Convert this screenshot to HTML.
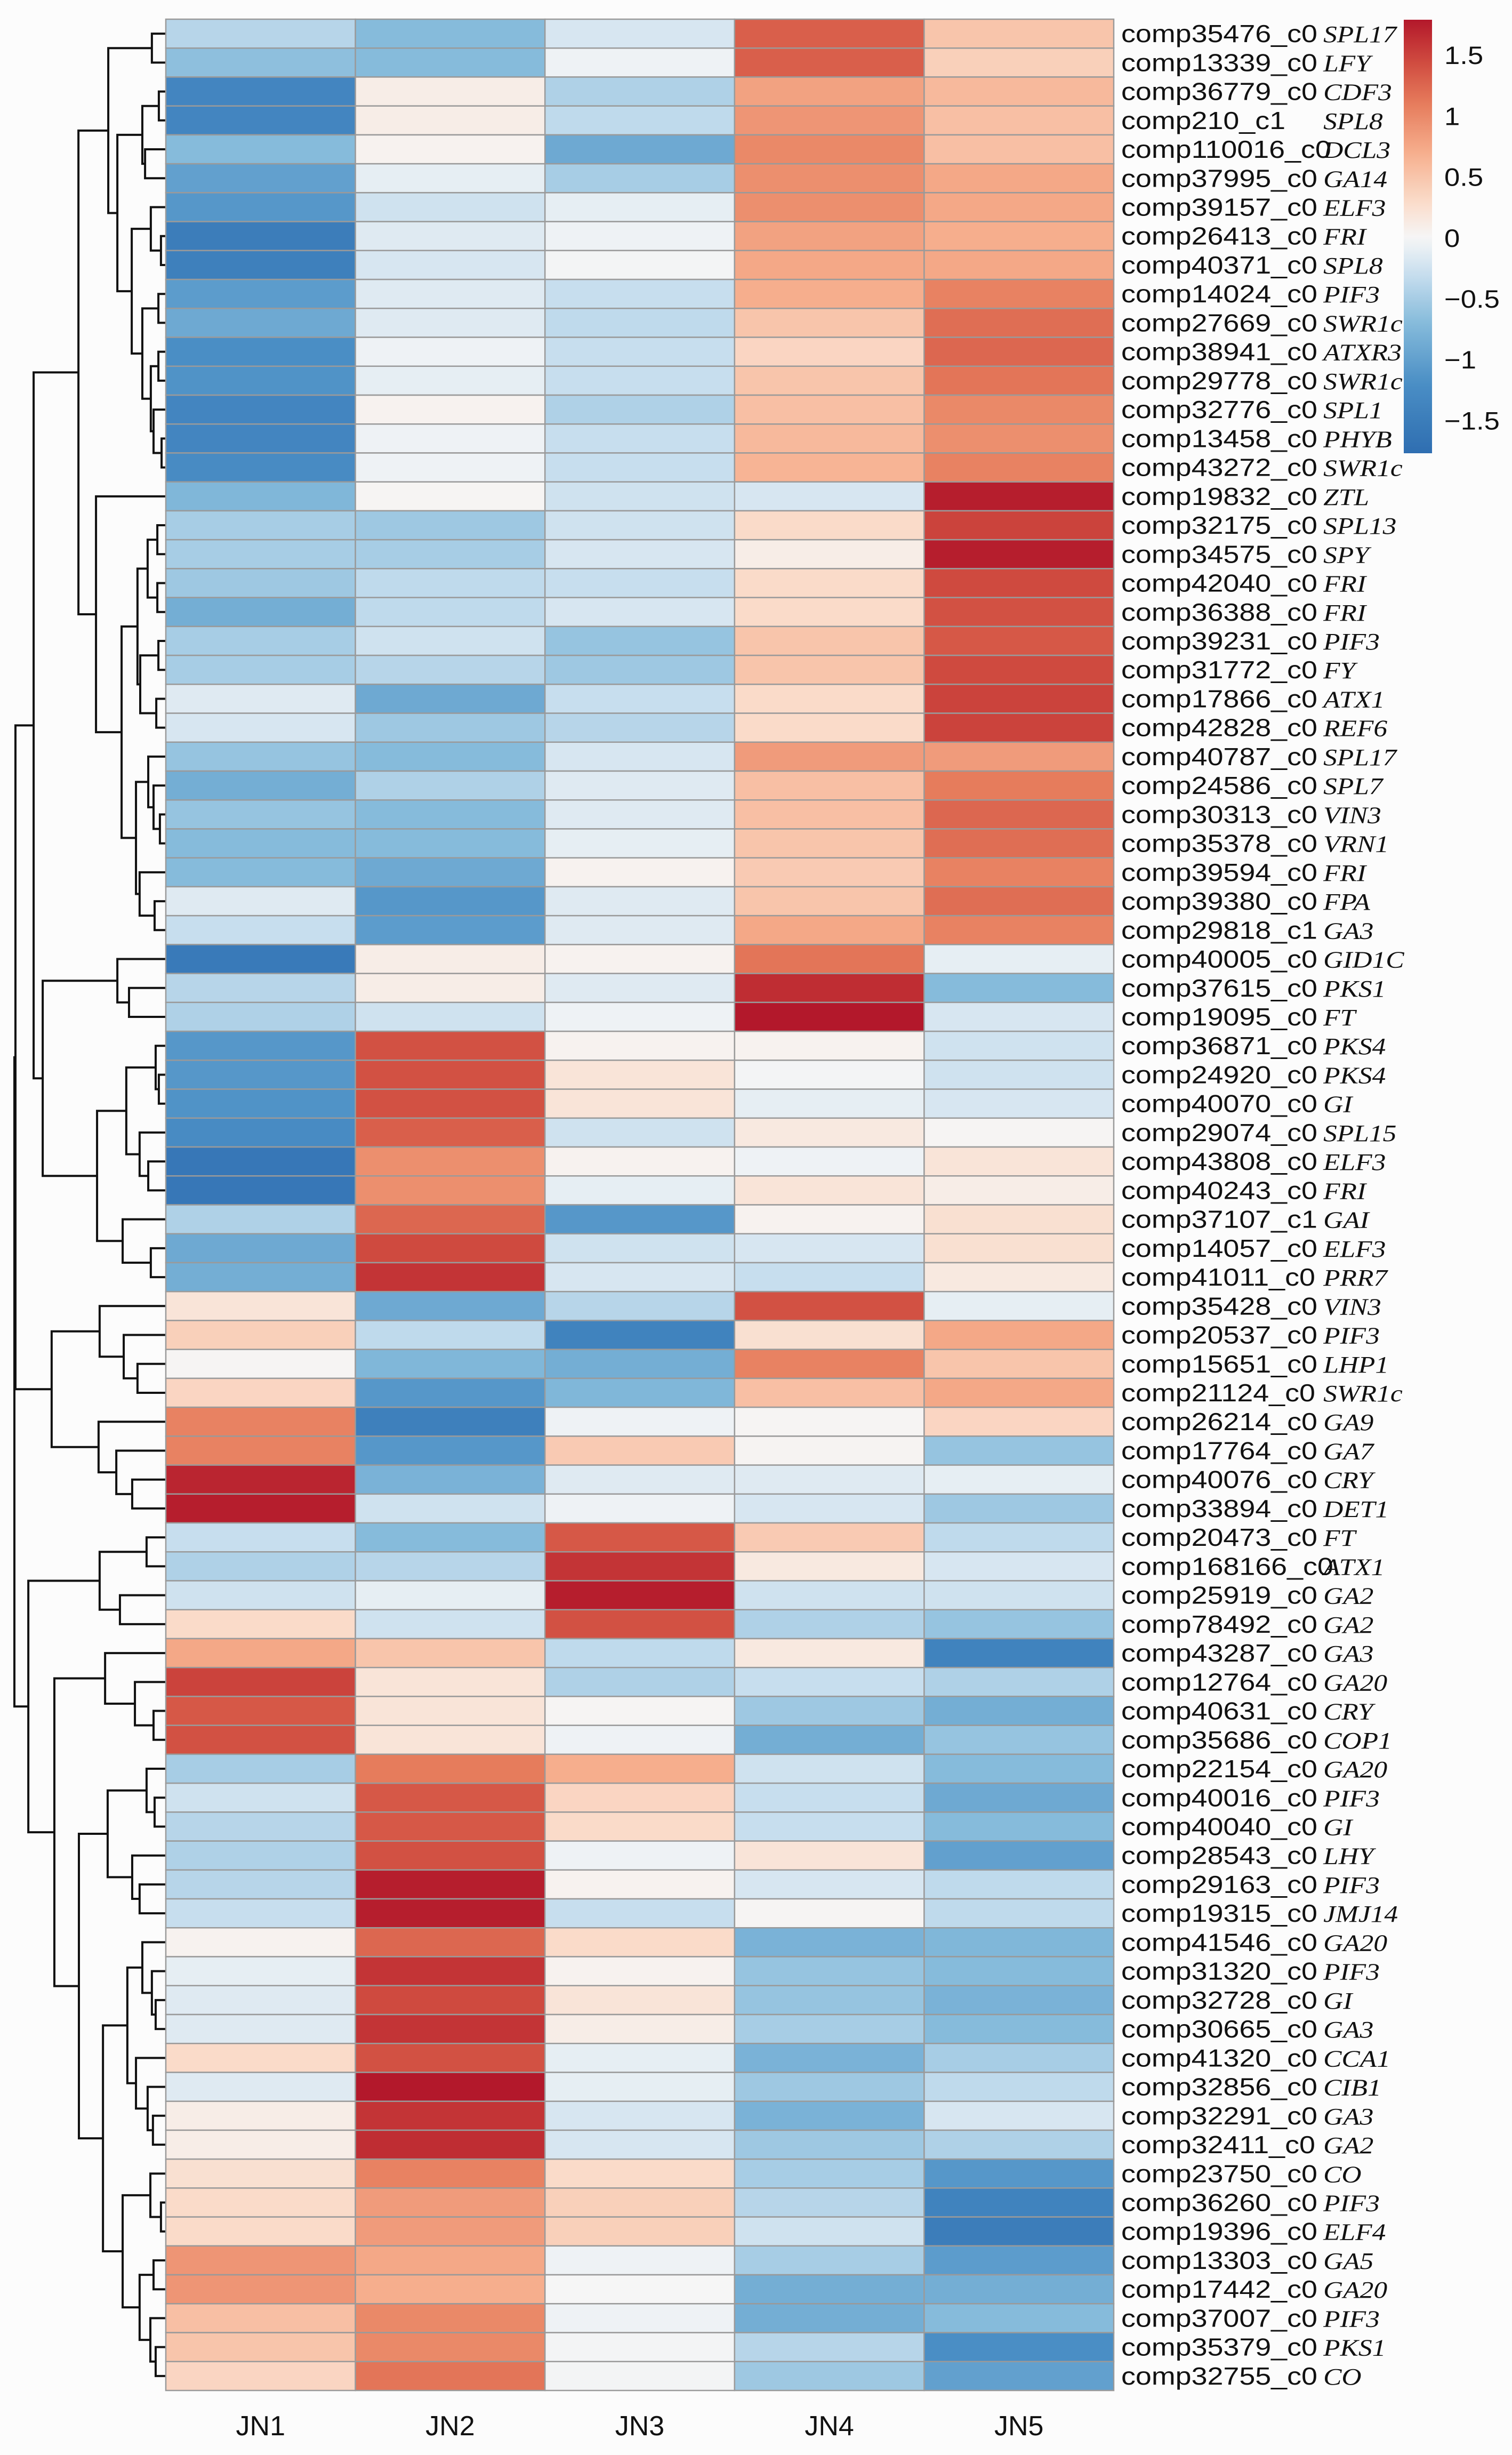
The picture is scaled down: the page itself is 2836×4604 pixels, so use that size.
<!DOCTYPE html>
<html><head><meta charset="utf-8"><style>
html,body{margin:0;padding:0;background:#fff;}
svg{display:block;}
</style></head><body>
<svg id="chart" width="2836" height="4604" viewBox="0 0 2836 4604" xmlns="http://www.w3.org/2000/svg">
<rect x="0" y="0" width="2836" height="4604" fill="#fcfcfc"/>
<g id="dendro"></g>
<g id="cells"></g>
<g id="rowlabels"></g>
<g id="collabels"></g>
<g id="legend"></g>
</svg>
<script>
const samples = ["JN1","JN2","JN3","JN4","JN5"];
const compIds = ["comp35476_c0","comp13339_c0","comp36779_c0","comp210_c1","comp110016_c0","comp37995_c0","comp39157_c0","comp26413_c0","comp40371_c0","comp14024_c0","comp27669_c0","comp38941_c0","comp29778_c0","comp32776_c0","comp13458_c0","comp43272_c0","comp19832_c0","comp32175_c0","comp34575_c0","comp42040_c0","comp36388_c0","comp39231_c0","comp31772_c0","comp17866_c0","comp42828_c0","comp40787_c0","comp24586_c0","comp30313_c0","comp35378_c0","comp39594_c0","comp39380_c0","comp29818_c1","comp40005_c0","comp37615_c0","comp19095_c0","comp36871_c0","comp24920_c0","comp40070_c0","comp29074_c0","comp43808_c0","comp40243_c0","comp37107_c1","comp14057_c0","comp41011_c0","comp35428_c0","comp20537_c0","comp15651_c0","comp21124_c0","comp26214_c0","comp17764_c0","comp40076_c0","comp33894_c0","comp20473_c0","comp168166_c0","comp25919_c0","comp78492_c0","comp43287_c0","comp12764_c0","comp40631_c0","comp35686_c0","comp22154_c0","comp40016_c0","comp40040_c0","comp28543_c0","comp29163_c0","comp19315_c0","comp41546_c0","comp31320_c0","comp32728_c0","comp30665_c0","comp41320_c0","comp32856_c0","comp32291_c0","comp32411_c0","comp23750_c0","comp36260_c0","comp19396_c0","comp13303_c0","comp17442_c0","comp37007_c0","comp35379_c0","comp32755_c0"];
const geneNames = ["SPL17","LFY","CDF3","SPL8","DCL3","GA14","ELF3","FRI","SPL8","PIF3","SWR1c","ATXR3","SWR1c","SPL1","PHYB","SWR1c","ZTL","SPL13","SPY","FRI","FRI","PIF3","FY","ATX1","REF6","SPL17","SPL7","VIN3","VRN1","FRI","FPA","GA3","GID1C","PKS1","FT","PKS4","PKS4","GI","SPL15","ELF3","FRI","GAI","ELF3","PRR7","VIN3","PIF3","LHP1","SWR1c","GA9","GA7","CRY","DET1","FT","ATX1","GA2","GA2","GA3","GA20","CRY","COP1","GA20","PIF3","GI","LHY","PIF3","JMJ14","GA20","PIF3","GI","GA3","CCA1","CIB1","GA3","GA2","CO","PIF3","ELF4","GA5","GA20","PIF3","PKS1","CO"];
const jn1 = [-0.4,-0.65,-1.35,-1.35,-0.7,-1.0,-1.1,-1.5,-1.45,-1.05,-0.9,-1.2,-1.15,-1.35,-1.35,-1.25,-0.75,-0.5,-0.5,-0.55,-0.85,-0.5,-0.5,-0.15,-0.2,-0.6,-0.85,-0.6,-0.7,-0.7,-0.15,-0.3,-1.55,-0.4,-0.45,-1.1,-1.1,-1.15,-1.25,-1.6,-1.6,-0.45,-0.9,-0.85,0.2,0.4,0.02,0.35,1.05,1.05,1.7,1.75,-0.3,-0.45,-0.25,0.3,0.75,1.5,1.35,1.4,-0.5,-0.25,-0.4,-0.45,-0.4,-0.3,0.05,-0.1,-0.15,-0.15,0.3,-0.15,0.1,0.1,0.25,0.3,0.3,0.9,0.9,0.55,0.5,0.35];
const jn2 = [-0.7,-0.7,0.1,0.1,0.05,-0.1,-0.25,-0.15,-0.2,-0.15,-0.15,-0.05,-0.1,0.05,-0.05,-0.05,0.02,-0.55,-0.5,-0.35,-0.35,-0.25,-0.4,-0.9,-0.55,-0.7,-0.45,-0.7,-0.7,-0.9,-1.1,-1.05,0.1,0.1,-0.25,1.4,1.4,1.4,1.3,0.95,0.95,1.25,1.45,1.6,-0.9,-0.35,-0.75,-1.1,-1.45,-1.1,-0.8,-0.25,-0.7,-0.4,-0.1,-0.25,0.5,0.2,0.2,0.2,1.1,1.35,1.35,1.4,1.75,1.75,1.25,1.6,1.45,1.6,1.4,1.8,1.6,1.65,1.05,0.85,0.85,0.75,0.7,1.0,1.0,1.15];
const jn3 = [-0.2,-0.05,-0.45,-0.35,-0.9,-0.5,-0.1,-0.05,-0.02,-0.3,-0.35,-0.3,-0.3,-0.45,-0.3,-0.3,-0.25,-0.25,-0.2,-0.3,-0.2,-0.6,-0.55,-0.3,-0.4,-0.2,-0.15,-0.15,-0.1,0.05,-0.15,-0.15,0.05,-0.15,-0.05,0.05,0.2,0.2,-0.25,0.05,-0.1,-1.1,-0.25,-0.2,-0.4,-1.4,-0.85,-0.75,-0.05,0.45,-0.15,-0.05,1.35,1.6,1.75,1.4,-0.35,-0.45,0.02,-0.05,0.7,0.35,0.3,-0.05,0.05,-0.3,0.3,0.05,0.2,0.1,-0.1,-0.1,-0.2,-0.2,0.3,0.4,0.4,-0.05,0.0,-0.05,-0.02,-0.02];
const jn4 = [1.3,1.3,0.8,0.9,1.0,0.95,0.95,0.8,0.75,0.7,0.5,0.35,0.5,0.55,0.6,0.65,-0.2,0.3,0.1,0.3,0.3,0.5,0.5,0.3,0.3,0.85,0.55,0.55,0.5,0.45,0.5,0.75,1.15,1.65,1.8,0.05,-0.02,-0.1,0.15,-0.05,0.2,0.05,-0.2,-0.3,1.4,0.25,1.05,0.55,0.02,0.03,-0.15,-0.2,0.45,0.15,-0.25,-0.45,0.15,-0.3,-0.55,-0.85,-0.25,-0.3,-0.3,0.2,-0.2,0.02,-0.8,-0.6,-0.6,-0.5,-0.8,-0.55,-0.8,-0.55,-0.5,-0.4,-0.25,-0.5,-0.85,-0.85,-0.4,-0.55];
const jn5 = [0.5,0.4,0.6,0.55,0.55,0.75,0.75,0.7,0.75,1.05,1.2,1.25,1.15,1.0,0.95,1.05,1.75,1.5,1.75,1.45,1.4,1.35,1.45,1.5,1.5,0.85,1.1,1.25,1.2,1.05,1.2,1.05,-0.1,-0.7,-0.2,-0.25,-0.25,-0.2,0.02,0.2,0.1,0.25,0.25,0.15,-0.1,0.75,0.5,0.75,0.35,-0.6,-0.1,-0.55,-0.35,-0.2,-0.25,-0.6,-1.4,-0.45,-0.85,-0.6,-0.7,-0.9,-0.7,-1.0,-0.35,-0.35,-0.75,-0.7,-0.8,-0.7,-0.5,-0.35,-0.2,-0.45,-1.1,-1.4,-1.5,-1.05,-0.85,-0.7,-1.2,-1.0];
const legendTicks = [1.5,1,0.5,0,-0.5,-1,-1.5];
const legendTickText = ["1.5","1","0.5","0","\u22120.5","\u22121","\u22121.5"];
// row dendrogram: [mergeHeight, left, right]; leaves are row indices
const rowTree = [10,
  [9.93,
    [8.73,
      [5.77,
        [3.8,[0.92,0,1],
          [3.2,[1.55,[0.46,2,3],[1.37,4,5]],
            [2.25,[0.99,6,[0.32,7,8]],
              [1.55,[0.49,9,10],[0.99,[0.49,11,12],[0.81,13,[0.28,14,15]]]]]]],
        [4.61,16,
          [2.92,[1.87,[1.2,[0.56,17,18],[0.56,19,20]],[1.69,[0.49,21,22],[0.63,23,24]]],
            [1.97,[1.16,25,[0.81,26,[0.39,27,28]]],[1.73,29,[0.74,30,31]]]]]],
      [8.13,[3.2,32,[2.43,33,34]],
        [4.54,[2.61,[0.67,35,[0.46,36,37]],[1.73,38,[1.16,39,40]]],[2.85,41,[0.99,42,43]]]]],
    [7.54,[4.37,44,[2.78,45,[1.87,46,47]]],[4.44,48,[3.27,49,[2.22,50,51]]]]],
  [9.08,[4.37,[1.27,52,53],[3.03,54,55]],
    [7.36,[4.01,56,[2.04,57,[0.81,58,59]]],
      [5.74,[3.84,[1.27,60,[0.74,61,62]],[2.22,63,[1.73,64,65]]],
        [4.15,[2.54,[1.55,66,[0.92,67,[0.67,68,69]]],[1.97,70,[1.2,71,[0.85,72,73]]]],
          [2.85,[1.02,74,[0.32,75,76]],[1.73,[0.81,77,78],[1.02,79,[0.67,80,81]]]]]]]]];

const NS="http://www.w3.org/2000/svg";
const X0=311, X1=2089, Y0=36, Y1=4483;
const nRows=compIds.length, nCols=samples.length;
const cw=(X1-X0)/nCols, rh=(Y1-Y0)/nRows;
const series=[jn1,jn2,jn3,jn4,jn5];
const stops=[[-1.76,[47,110,177]],[-1.2,[74,142,197]],[-0.7,[134,187,219]],[-0.3,[199,222,238]],[0,[246,246,246]],[0.3,[250,219,201]],[0.7,[246,174,141]],[1.1,[230,124,92]],[1.45,[207,74,63]],[1.79,[179,24,43]]];
function color(v){
  if(v<=stops[0][0]) return 'rgb('+stops[0][1].join(',')+')';
  for(let i=1;i<stops.length;i++){
    if(v<=stops[i][0]){
      const t=(v-stops[i-1][0])/(stops[i][0]-stops[i-1][0]);
      const a=stops[i-1][1], b=stops[i][1];
      return 'rgb('+a.map((c,k)=>Math.round(c+(b[k]-c)*t)).join(',')+')';
    }
  }
  return 'rgb('+stops[stops.length-1][1].join(',')+')';
}
function xCol(j){return X0+j*cw;}
function yRow(i){return Y0+i*rh;}
function mk(tag,attrs,parent){const e=document.createElementNS(NS,tag);for(const k in attrs)e.setAttribute(k,attrs[k]);parent.appendChild(e);return e;}

const cells=document.getElementById('cells');
for(let i=0;i<nRows;i++){
  for(let j=0;j<nCols;j++){
    const r=mk('rect',{x:xCol(j),y:yRow(i),width:cw,height:rh,fill:color(series[j][i]),stroke:'#9a9a9a','stroke-width':2.5},cells);
    
    
  }
}
const rl=document.getElementById('rowlabels');
for(let i=0;i<nRows;i++){
  const g=mk('g',{transform:'translate(2103,'+(yRow(i)+rh/2+16)+') scale(1.17,1)'},rl);
  
  
  const t=mk('text',{x:0,y:0,'font-family':'Liberation Sans, sans-serif','font-size':46,fill:'#111'},g);
  t.textContent=compIds[i];
  
  
  const t2=mk('text',{x:324,y:0,'font-family':'Liberation Serif, serif','font-style':'italic','font-size':44,fill:'#111'},g);
  t2.textContent=geneNames[i];
  
  
}
const cl=document.getElementById('collabels');
for(let j=0;j<nCols;j++){
  const t=mk('text',{x:xCol(j)+cw/2,y:4567,'text-anchor':'middle','font-family':'Liberation Sans, sans-serif','font-size':52,fill:'#111'},cl);
  t.textContent=samples[j];
  
  
}
// legend
const lg=document.getElementById('legend');
const LMAX=1.79, LMIN=-1.77, LY0=37, LY1=850;
function yLeg(v){return LY0+(LMAX-v)/(LMAX-LMIN)*(LY1-LY0);}
const defs=mk('defs',{},lg);
const grad=mk('linearGradient',{id:'lgrad',x1:0,y1:0,x2:0,y2:1},defs);
for(let k=0;k<=40;k++){
  const v=LMAX-(LMAX-LMIN)*k/40;
  mk('stop',{offset:(k/40),'stop-color':color(v)},grad);
}
const bar=mk('rect',{x:2633,y:LY0,width:53,height:LY1-LY0,fill:'url(#lgrad)'},lg);


for(let k=0;k<legendTicks.length;k++){
  const g=mk('g',{transform:'translate(2709,'+(yLeg(legendTicks[k])+17)+') scale(1.12,1)'},lg);
  const t=mk('text',{x:0,y:0,'font-family':'Liberation Sans, sans-serif','font-size':47,fill:'#111'},g);
  t.textContent=legendTickText[k];
  
  
}
// dendrogram
const dg=document.getElementById('dendro');
const HMAX=10, DX0=27, DX1=X0;
function xH(h){return DX1-(DX1-DX0)*h/HMAX;}
let d='';
function walk(n){
  if(typeof n==='number') return {y:yRow(n)+rh/2,h:0};
  const a=walk(n[1]), b=walk(n[2]);
  const x=xH(n[0]);
  d+='M'+xH(a.h)+' '+a.y+'H'+x+'V'+b.y+'H'+xH(b.h);
  return {y:(a.y+b.y)/2,h:n[0]};
}
walk(rowTree);
const p=mk('path',{d:d,fill:'none',stroke:'#111','stroke-width':4,'stroke-linejoin':'miter'},dg);


</script>
</body></html>
